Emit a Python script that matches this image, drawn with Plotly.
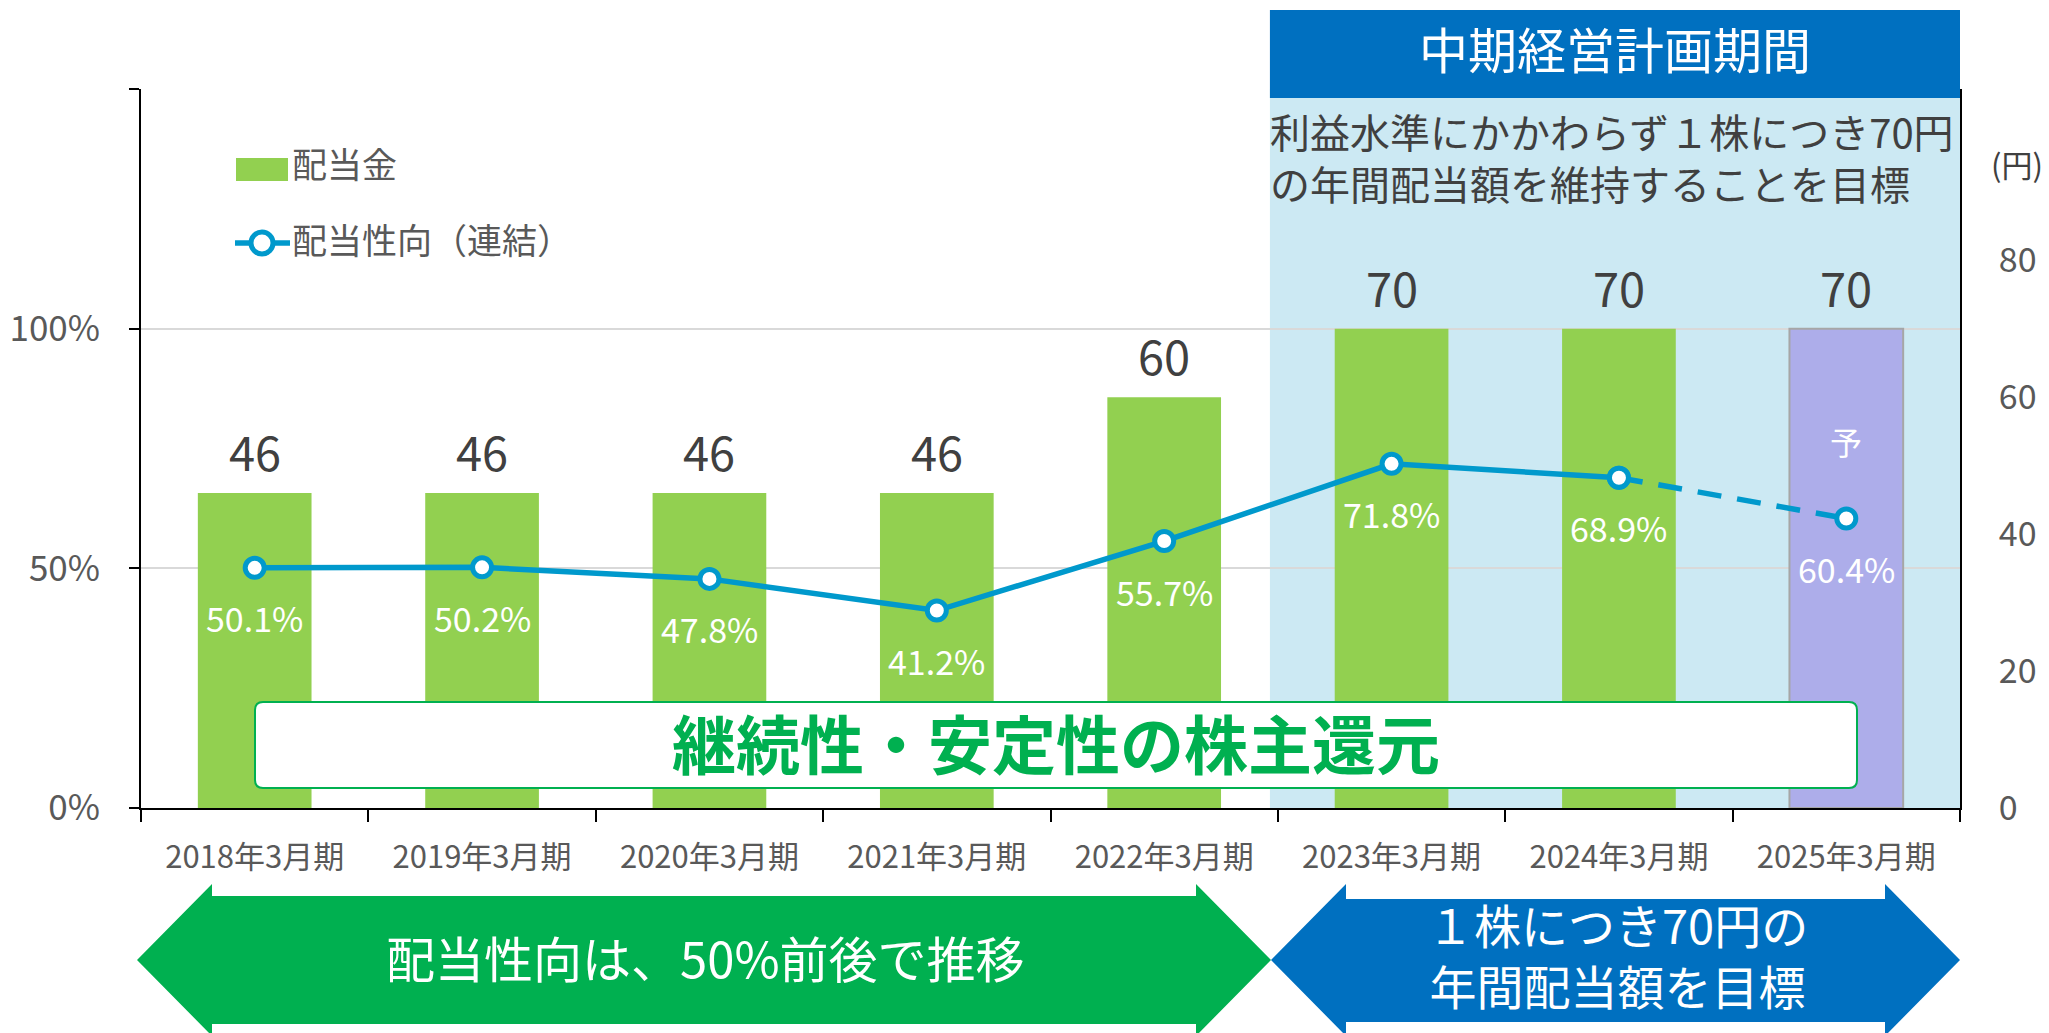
import plotly.graph_objects as go

# ---------------- data ----------------
categories = ["2018年3月期", "2019年3月期", "2020年3月期", "2021年3月期",
              "2022年3月期", "2023年3月期", "2024年3月期", "2025年3月期"]
dividend = [46, 46, 46, 46, 60, 70, 70, 70]            # 配当金 (円)
payout_ratio = [50.1, 50.2, 47.8, 41.2, 55.7, 71.8, 68.9, 60.4]  # 配当性向 (%)
is_forecast = [False, False, False, False, False, False, False, True]
yen_ticks = [0, 20, 40, 60, 80]
pct_ticks = [0, 50, 100, 150]
pct_ticktext = ["0%", "50%", "100%", ""]
plan_start = 4.465   # 中期経営計画期間 starts between 2022 and 2023 columns

# ---------------- layout geometry ----------------
OFF = 8                      # page body margin
W, H = 2049 - OFF, 1033 - OFF
ML, MR, MT, MB = 141 - OFF, 89, 89 - OFF, 225
PW = W - ML - MR
PH = H - MT - MB
FONT = "Noto Sans CJK JP"


def px(X):  # reference-window pixel -> paper
    return (X - OFF - ML) / PW


def py(Y):
    return (MT + PH - (Y - OFF)) / PH


GREEN_BAR = "#92D050"
PURPLE_BAR = "#ADADEA"
LINE_BLUE = "#0099CC"
DARK_BLUE = "#0070C0"
LIGHT_BLUE = "#CCE9F3"
GREEN = "#00B050"

fig = go.Figure()

# bars (base axis y = yen, drawn at the right)
fig.add_trace(go.Bar(
    x=categories, y=dividend, name="配当金", yaxis="y",
    marker=dict(
        color=[PURPLE_BAR if f else GREEN_BAR for f in is_forecast],
        line=dict(color=["#A6A6A6" if f else GREEN_BAR for f in is_forecast],
                  width=[2 if f else 0 for f in is_forecast]),
    ),
    showlegend=False, hoverinfo="skip",
))

# payout ratio line (overlay axis y2 = percent, drawn at the left)
act_idx = [i for i, f in enumerate(is_forecast) if not f]
fc_idx = [act_idx[-1]] + [i for i, f in enumerate(is_forecast) if f]
marker_style = dict(size=19, color="white", line=dict(color=LINE_BLUE, width=5))
fig.add_trace(go.Scatter(
    x=[categories[i] for i in fc_idx], y=[payout_ratio[i] for i in fc_idx],
    yaxis="y2", mode="lines+markers",
    line=dict(color=LINE_BLUE, width=5.5, dash="24px,16px"),
    marker=marker_style, showlegend=False, hoverinfo="skip",
))
fig.add_trace(go.Scatter(
    x=[categories[i] for i in act_idx], y=[payout_ratio[i] for i in act_idx],
    yaxis="y2", mode="lines+markers", name="配当性向（連結）",
    line=dict(color=LINE_BLUE, width=5.5),
    marker=marker_style, showlegend=False, hoverinfo="skip",
))

annotations = []


def note(x, y, text, size, color, xanchor="center", yanchor="middle", bold=False, **kw):
    d = dict(x=x, y=y, text=f"<b>{text}</b>" if bold else text, showarrow=False,
             xanchor=xanchor, yanchor=yanchor,
             font=dict(family=FONT, size=size, color=color))
    d.update(kw)
    annotations.append(d)


# value labels above bars
for c, v in zip(categories, dividend):
    note(c, v, str(v), 47, "#404040", yanchor="bottom", xref="x", yref="y", yshift=6)
# percentage labels below markers
for c, v in zip(categories, payout_ratio):
    note(c, v, f"{v:.1f}%", 34, "white", xref="x", yref="y2", yshift=-50)
# 予 mark on forecast bars
for c, v, f in zip(categories, dividend, is_forecast):
    if f:
        note(c, v, "予", 32, "white", xref="x", yref="y", yshift=-112)

shapes = []
# plan period shading and header
shapes.append(dict(type="rect", xref="x", yref="paper", x0=plan_start, x1=7.5,
                   y0=0, y1=1, fillcolor=LIGHT_BLUE, line=dict(width=0), layer="below"))
shapes.append(dict(type="rect", xref="x", yref="paper", x0=plan_start, x1=7.5,
                   y0=py(98), y1=py(10), fillcolor=DARK_BLUE, line=dict(width=0), layer="above"))
note((px(1270) + 1) / 2, py(48), "中期経営計画期間", 49, "white", xref="paper", yref="paper")
note(px(1268), py(157), "利益水準にかかわらず１株につき70円<br>の年間配当額を維持することを目標",
     40, "#404040", xanchor="left", align="left", xref="paper", yref="paper")
# (円) unit label
note(px(2017), py(163), "(円)", 31, "#404040", xref="paper", yref="paper")

# rounded banner
bx0, bx1, by0, by1, r = 255, 1857, 702, 788, 8
path = (f"M{px(bx0 + r)},{py(by0)} L{px(bx1 - r)},{py(by0)} "
        f"Q{px(bx1)},{py(by0)} {px(bx1)},{py(by0 + r)} L{px(bx1)},{py(by1 - r)} "
        f"Q{px(bx1)},{py(by1)} {px(bx1 - r)},{py(by1)} L{px(bx0 + r)},{py(by1)} "
        f"Q{px(bx0)},{py(by1)} {px(bx0)},{py(by1 - r)} L{px(bx0)},{py(by0 + r)} "
        f"Q{px(bx0)},{py(by0)} {px(bx0 + r)},{py(by0)} Z")
shapes.append(dict(type="path", xref="paper", yref="paper", path=path,
                   fillcolor="white", line=dict(color=GREEN, width=2), layer="above"))
note(px(1056), py(741), "継続性・安定性の株主還元", 64, GREEN, bold=True,
     xref="paper", yref="paper")


def double_arrow(xl, xhl, xhr, xr, ybt, ybb, yht, yhb, yc):
    pts = [(xl, yc), (xhl, yht), (xhl, ybt), (xhr, ybt), (xhr, yht), (xr, yc),
           (xhr, yhb), (xhr, ybb), (xhl, ybb), (xhl, yhb)]
    return "M" + " L".join(f"{px(a)},{py(b)}" for a, b in pts) + " Z"


shapes.append(dict(type="path", xref="paper", yref="paper", layer="above",
                   path=double_arrow(137, 212, 1196, 1271, 896, 1024, 884, 1036, 960),
                   fillcolor=GREEN, line=dict(width=0)))
shapes.append(dict(type="path", xref="paper", yref="paper", layer="above",
                   path=double_arrow(1271, 1346, 1885, 1960, 899, 1022, 884, 1036, 960),
                   fillcolor=DARK_BLUE, line=dict(width=0)))
note(px(705), py(956), "配当性向は、50%前後で推移", 49, "white", xref="paper", yref="paper")
note(px(1617), py(954), "１株につき70円の<br>年間配当額を目標", 47, "white",
     xref="paper", yref="paper")

# custom legend
shapes.append(dict(type="rect", xref="paper", yref="paper", x0=px(236), x1=px(288),
                   y0=py(181), y1=py(158), fillcolor=GREEN_BAR, line=dict(width=0)))
note(px(290), py(162), "配当金", 35, "#595959", xanchor="left", xref="paper", yref="paper")
shapes.append(dict(type="line", xref="paper", yref="paper", x0=px(235), x1=px(290),
                   y0=py(243), y1=py(243), line=dict(color=LINE_BLUE, width=5.5)))
rr = 11
shapes.append(dict(type="circle", xref="paper", yref="paper",
                   x0=px(262 - rr), x1=px(262 + rr), y0=py(243 + rr), y1=py(243 - rr),
                   fillcolor="white", line=dict(color=LINE_BLUE, width=5)))
note(px(290), py(238), "配当性向（連結）", 35, "#595959", xanchor="left",
     xref="paper", yref="paper")

fig.update_layout(
    width=W, height=H,
    margin=dict(l=ML, r=MR, t=MT, b=MB, pad=0, autoexpand=False),
    paper_bgcolor="white", plot_bgcolor="rgba(0,0,0,0)",
    bargap=0.5,
    showlegend=False,
    font=dict(family=FONT, color="#595959"),
    xaxis=dict(type="category", categoryorder="array", categoryarray=categories,
               range=[-0.5, len(categories) - 0.5], automargin=False,
               tickson="boundaries", ticks="outside", ticklen=12, tickwidth=2,
               tickcolor="black", showline=True, linecolor="black", linewidth=2,
               showgrid=False, tickfont=dict(family=FONT, size=31, color="#595959"),
               ticklabelstandoff=21),
    yaxis=dict(side="right", range=[0, 105], tickvals=yen_ticks, automargin=False,
               showline=True, linecolor="black", linewidth=2, ticks="",
               showgrid=False, zeroline=False,
               tickfont=dict(family=FONT, size=34, color="#595959"),
               ticklabelstandoff=30),
    yaxis2=dict(overlaying="y", side="left", range=[0, 150], tickvals=pct_ticks,
                ticktext=pct_ticktext, showgrid=True, gridcolor="#D9D9D9", gridwidth=2,
                automargin=False,
                ticks="outside", ticklen=10, tickwidth=2, tickcolor="black",
                showline=True, linecolor="black", linewidth=2, zeroline=False,
                tickfont=dict(family=FONT, size=35, color="#595959"),
                ticklabelstandoff=22),
    shapes=shapes,
    annotations=annotations,
)

fig.write_html("out.html")
